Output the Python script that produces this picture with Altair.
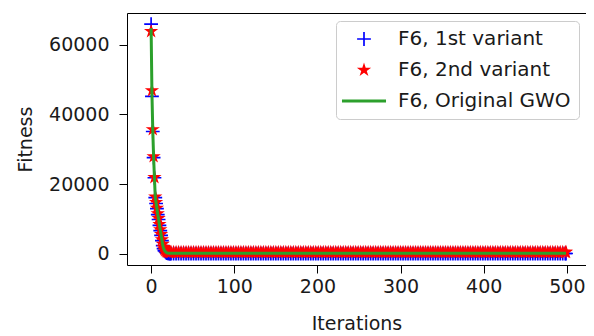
import math
import altair as alt
import pandas as pd

# ---- data ----
series_names = ["F6, 1st variant", "F6, 2nd variant", "F6, Original GWO"]

head_iter = list(range(0, 24))
blue_head = [66000, 45200, 35100, 27600, 21800, 16100, 14400, 12900, 11200, 9800,
             8100, 6600, 5200, 3700, 2300, 1400, 860, 580, 300, 150, 60, 20, 0, 0]
red_head = [63900, 46900, 35700, 27900, 21900, 16300, 14700, 13100, 11500, 10100,
            8400, 6900, 5500, 4000, 2700, 1800, 1200, 900, 700, 550, 480, 440, 420, 400]
green_head = [64800, 46000, 35400, 27700, 21800, 16200, 14500, 13000, 11300, 9900,
              8200, 6700, 5300, 3800, 2400, 1500, 950, 600, 350, 200, 110, 70, 60, 60]

tail_iter = list(range(24, 500, 3)) + [499]
blue_tail = [0, 0, 0, 0, 0, 0, 0, 0, 0, 0, 0, 0, 0, 0, 0, 0, 0, 0, 0, 0,
             0, 0, 0, 0, 0, 0, 0, 0, 0, 0, 0, 0, 0, 0, 0, 0, 0, 0, 0, 0,
             0, 0, 0, 0, 0, 0, 0, 0, 0, 0, 0, 0, 0, 0, 0, 0, 0, 0, 0, 0,
             0, 0, 0, 0, 0, 0, 0, 0, 0, 0, 0, 0, 0, 0, 0, 0, 0, 0, 0, 0,
             0, 0, 0, 0, 0, 0, 0, 0, 0, 0, 0, 0, 0, 0, 0, 0, 0, 0, 0, 0,
             0, 0, 0, 0, 0, 0, 0, 0, 0, 0, 0, 0, 0, 0, 0, 0, 0, 0, 0, 0,
             0, 0, 0, 0, 0, 0, 0, 0, 0, 0, 0, 0, 0, 0, 0, 0, 0, 0, 0, 0,
             0, 0, 0, 0, 0, 0, 0, 0, 0, 0, 0, 0, 0, 0, 0, 0, 0, 0, 0, 0]
red_tail = [400, 400, 400, 400, 400, 400, 400, 400, 400, 400, 400, 400, 400, 400, 400, 400, 400, 400, 400, 400,
            400, 400, 400, 400, 400, 400, 400, 400, 400, 400, 400, 400, 400, 400, 400, 400, 400, 400, 400, 400,
            400, 400, 400, 400, 400, 400, 400, 400, 400, 400, 400, 400, 400, 400, 400, 400, 400, 400, 400, 400,
            400, 400, 400, 400, 400, 400, 400, 400, 400, 400, 400, 400, 400, 400, 400, 400, 400, 400, 400, 400,
            400, 400, 400, 400, 400, 400, 400, 400, 400, 400, 400, 400, 400, 400, 400, 400, 400, 400, 400, 400,
            400, 400, 400, 400, 400, 400, 400, 400, 400, 400, 400, 400, 400, 400, 400, 400, 400, 400, 400, 400,
            400, 400, 400, 400, 400, 400, 400, 400, 400, 400, 400, 400, 400, 400, 400, 400, 400, 400, 400, 400,
            400, 400, 400, 400, 400, 400, 400, 400, 400, 400, 400, 400, 400, 400, 400, 400, 400, 400, 400, 400]
green_tail = [60, 60, 60, 60, 60, 60, 60, 60, 60, 60, 60, 60, 60, 60, 60, 60, 60, 60, 60, 60,
              60, 60, 60, 60, 60, 60, 60, 60, 60, 60, 60, 60, 60, 60, 60, 60, 60, 60, 60, 60,
              60, 60, 60, 60, 60, 60, 60, 60, 60, 60, 60, 60, 60, 60, 60, 60, 60, 60, 60, 60,
              60, 60, 60, 60, 60, 60, 60, 60, 60, 60, 60, 60, 60, 60, 60, 60, 60, 60, 60, 60,
              60, 60, 60, 60, 60, 60, 60, 60, 60, 60, 60, 60, 60, 60, 60, 60, 60, 60, 60, 60,
              60, 60, 60, 60, 60, 60, 60, 60, 60, 60, 60, 60, 60, 60, 60, 60, 60, 60, 60, 60,
              60, 60, 60, 60, 60, 60, 60, 60, 60, 60, 60, 60, 60, 60, 60, 60, 60, 60, 60, 60,
              60, 60, 60, 60, 60, 60, 60, 60, 60, 60, 60, 60, 60, 60, 60, 60, 60, 60, 60, 60]

x_ticks = [0, 100, 200, 300, 400, 500]
y_ticks = [0, 20000, 40000, 60000]

colors = ["#0000ff", "#ff0000", "#2ca02c"]

# ---- marker shapes (normalised symbol paths) ----
plus_path = "M-1.15,-0.14H-0.14V-1.15H0.14V-0.14H1.15V0.14H0.14V1.15H-0.14V0.14H-1.15Z"


def star_path(R, ratio=0.381966):
    pts = []
    for k in range(10):
        ang = math.radians(-90 + 36 * k)
        r = R if k % 2 == 0 else R * ratio
        pts.append(f"{r * math.cos(ang):.3f},{r * math.sin(ang):.3f}")
    return "M" + "L".join(pts) + "Z"


line_path = "M-3.67,-0.25H3.67V0.25H-3.67Z"
shapes = [plus_path, star_path(1.25), line_path]

FONT = "DejaVu Sans"
FS = 19

it_all = head_iter + tail_iter
pts = pd.DataFrame({
    "Iteration": it_all + it_all,
    "Fitness": blue_head + blue_tail + red_head + red_tail,
    "series": [series_names[0]] * len(it_all) + [series_names[1]] * len(it_all),
    "order": list(range(2 * len(it_all))),
})
line_df = pd.DataFrame({
    "Iteration": it_all,
    "Fitness": green_head + green_tail,
})

xscale = alt.Scale(domain=[-29, 523], nice=False, zero=False)
yscale = alt.Scale(domain=[-3300, 69200], nice=False, zero=False)

xaxis = alt.Axis(values=x_ticks, title="Iterations", grid=False, domain=False,
                 tickSize=8, tickColor="black", labelFontSize=FS, labelFont=FONT,
                 labelColor="#1a1a1a", labelPadding=4, titleFont=FONT, titleFontSize=FS,
                 titleFontWeight="normal", titleColor="#1a1a1a", titlePadding=18,
                 labelFlush=False)
yaxis = alt.Axis(values=y_ticks, title="Fitness", grid=False, domain=False, format="d",
                 tickSize=8, tickColor="black", labelFontSize=FS, labelFont=FONT,
                 labelColor="#1a1a1a", labelPadding=10, titleFont=FONT, titleFontSize=FS,
                 titleFontWeight="normal", titleColor="#1a1a1a", titlePadding=13,
                 labelFlush=False)

points = alt.Chart(pts).mark_point(filled=True, size=144, opacity=1, strokeWidth=0).encode(
    x=alt.X("Iteration:Q", scale=xscale, axis=xaxis),
    y=alt.Y("Fitness:Q", scale=yscale, axis=yaxis),
    color=alt.Color("series:N", scale=alt.Scale(domain=series_names, range=colors),
                    legend=alt.Legend(title=None, orient="none", legendX=209, legendY=8,
                                      padding=8, symbolSize=144, symbolOffset=10,
                                      labelOffset=24, labelFontSize=20, labelFont=FONT,
                                      labelColor="#1a1a1a", rowPadding=11,
                                      fillColor="rgba(255,255,255,0.8)",
                                      strokeColor="#cccccc", cornerRadius=4,
                                      symbolStrokeWidth=0, labelLimit=400)),
    shape=alt.Shape("series:N", scale=alt.Scale(domain=series_names, range=shapes),
                    legend=None),
    order=alt.Order("order:Q"),
)

line = alt.Chart(line_df).mark_line(color=colors[2], strokeWidth=3).encode(
    x=alt.X("Iteration:Q", scale=xscale),
    y=alt.Y("Fitness:Q", scale=yscale),
)

chart = alt.layer(points, line).properties(
    width=459, height=252,
    autosize=alt.AutoSizeParams(type="none"),
    padding={"left": 119, "top": 5, "right": 0, "bottom": 75},
).configure_view(stroke="black", strokeWidth=1)

chart.save("out.html", embed_options={"renderer": "svg", "actions": False})
